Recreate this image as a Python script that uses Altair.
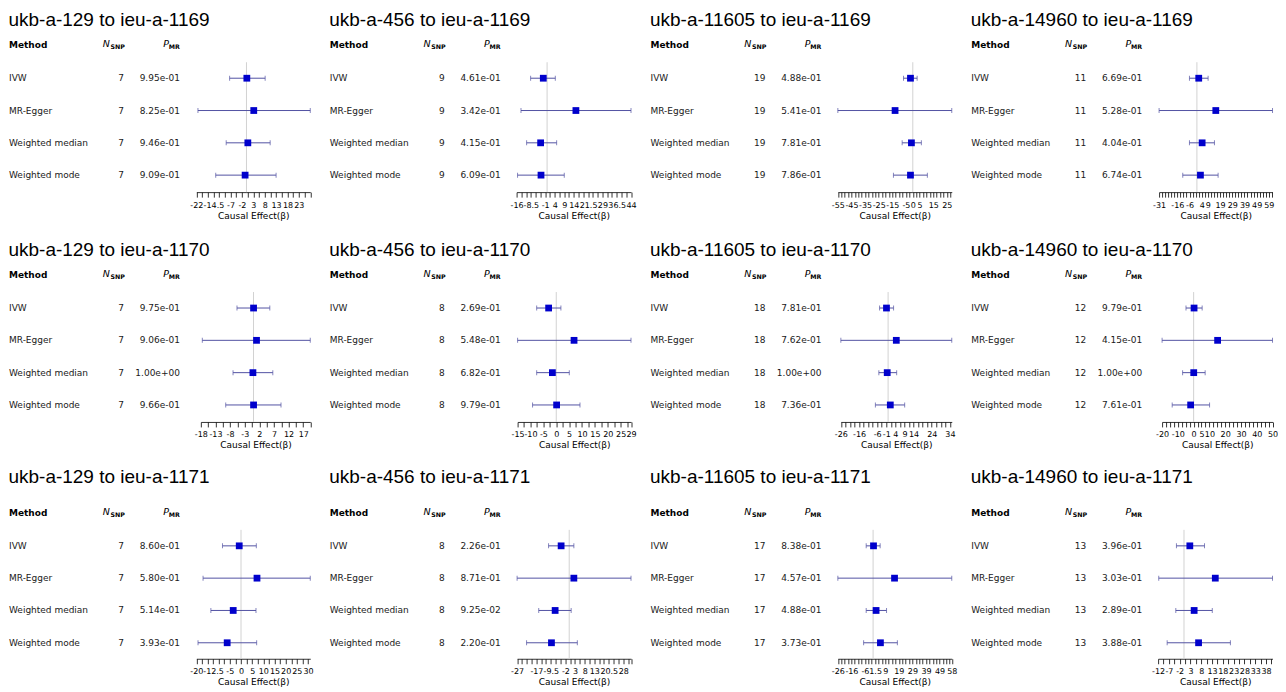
import json
import altair as alt
import numpy as np
import pandas as pd

exposures = ["ukb-a-129", "ukb-a-456", "ukb-a-11605", "ukb-a-14960"]
outcomes = ["ieu-a-1169", "ieu-a-1170", "ieu-a-1171"]
methods = ["IVW", "MR-Egger", "Weighted median", "Weighted mode"]

# panels in reading order: row = outcome, column = exposure
n_snp = [7, 9, 19, 11, 7, 8, 18, 12, 7, 8, 17, 13]

p_mr = [
    [9.95e-01, 8.25e-01, 9.46e-01, 9.09e-01],
    [4.61e-01, 3.42e-01, 4.15e-01, 6.09e-01],
    [4.88e-01, 5.41e-01, 7.81e-01, 7.86e-01],
    [6.69e-01, 5.28e-01, 4.04e-01, 6.74e-01],
    [9.75e-01, 9.06e-01, 1.00e+00, 9.66e-01],
    [2.69e-01, 5.48e-01, 6.82e-01, 9.79e-01],
    [7.81e-01, 7.62e-01, 1.00e+00, 7.36e-01],
    [9.79e-01, 4.15e-01, 1.00e+00, 7.61e-01],
    [8.60e-01, 5.80e-01, 5.14e-01, 3.93e-01],
    [2.26e-01, 8.71e-01, 9.25e-02, 2.20e-01],
    [8.38e-01, 4.57e-01, 4.88e-01, 3.73e-01],
    [3.96e-01, 3.03e-01, 2.89e-01, 3.88e-01],
]

beta = [
    [0.16, 3.2, 0.6, -0.6],
    [-2.0, 15.1, -3.4, -3.2],
    [-1.7, -13.0, -1.0, -1.7],
    [1.5, 15.5, 4.3, 2.9],
    [0.02, 1.03, -0.2, 0.02],
    [-2.96, 6.9, -1.5, 0.14],
    [-0.9, 4.5, -0.5, 1.2],
    [0.27, 15.2, 0.06, -1.9],
    [-0.8, 7.15, -3.5, -6.2],
    [-4.2, 2.4, -7.3, -9.2],
    [0.3, 15.8, 2.2, 5.4],
    [2.7, 14.5, 4.7, 6.75],
]

ci_low = [
    [-7.4, -21.3, -8.9, -13.5],
    [-8.65, -13.7, -10.75, -15.5],
    [-6.8, -55.0, -7.8, -14.2],
    [-6.1, -31.0, -6.1, -11.6],
    [-5.65, -17.5, -7.0, -9.5],
    [-7.6, -15.0, -7.6, -9.2],
    [-4.7, -26.0, -5.1, -7.0],
    [-4.85, -20.0, -7.0, -13.6],
    [-8.3, -17.0, -13.5, -19.25],
    [-10.7, -27.0, -15.8, -22.1],
    [-5.1, -26.0, -5.1, -7.0],
    [-3.5, -11.7, -3.8, -7.8],
]

ci_high = [
    [8.2, 28.0, 10.4, 13.0],
    [4.3, 44.0, 5.0, 9.0],
    [3.2, 28.6, 6.3, 10.7],
    [9.2, 62.0, 14.4, 17.4],
    [5.57, 19.4, 6.6, 9.4],
    [1.8, 29.0, 5.06, 9.2],
    [3.0, 35.0, 4.7, 9.1],
    [5.4, 50.0, 7.3, 10.1],
    [6.85, 31.0, 6.7, 7.0],
    [2.4, 32.0, 1.0, 4.2],
    [5.2, 58.0, 9.9, 17.9],
    [9.5, 41.0, 13.1, 21.5],
]

axis_min = [-22, -16, -55, -31, -18, -15, -26, -20, -20, -27, -26, -12]
axis_max = [28, 44, 28.6, 62, 19.4, 29, 35, 50, 31, 32, 58, 41]

tick_labels = [
    [-22, -14.5, -7, -2, 3, 8, 13, 18, 23],
    [-16, -8.5, -1, 4, 9, 14, 21.5, 29, 36.5, 44],
    [-55, -45, -35, -25, -15, -5, 0, 5, 15, 25],
    [-31, -16, -6, 4, 9, 19, 29, 39, 49, 59],
    [-18, -13, -8, -3, 2, 7, 12, 17],
    [-15, -10, -5, 0, 5, 10, 15, 20, 25, 29],
    [-26, -16, -6, -1, 4, 9, 14, 24, 34],
    [-20, -10, 0, 5, 10, 20, 30, 40, 50],
    [-20, -12.5, -5, 0, 5, 10, 15, 20, 25, 30],
    [-27, -17, -9.5, -2, 3, 8, 13, 20.5, 28],
    [-26, -16, -6, 1.5, 9, 19, 29, 39, 49, 58],
    [-12, -7, -2, 3, 8, 13, 18, 23, 28, 33, 38],
]

# ---- styling / layout constants ----
X_LEFT = [188.5, 188, 188.5, 189, 193, 189, 191.5, 192, 188.5, 188.5, 188.5, 188]
X_RIGHT = 302.5
SMALL = "DejaVu Sans"
TITLE_FONT = "Liberation Sans"
BAR_COLOR = "#5252a3"
PT_COLOR = "#0000cc"


def tick_values(lo, hi):
    grid = [float(round(v, 4)) for v in np.arange(lo, hi + 1e-9, 2.5)]
    if hi - grid[-1] > 1.25:
        grid.append(float(hi))
    return grid


def panel(i):
    r, c = divmod(i, 4)
    last = r == 2
    H = 191 if last else 184
    dy = 8 if last else 0
    W = 321 if c < 3 else 306
    title_y = 9 if last else 12

    df = pd.DataFrame({
        "method": methods,
        "nsnp": [str(n_snp[i])] * 4,
        "p": [f"{v:.2e}" for v in p_mr[i]],
        "b": beta[i],
        "lo": ci_low[i],
        "hi": ci_high[i],
    })
    one = pd.DataFrame({"t": [f"{exposures[c]} to {outcomes[r]}"]})

    ticks = tick_values(axis_min[i], axis_max[i])
    expr = "indexof(" + json.dumps(tick_labels[i]) + ", datum.value) >= 0 ? toString(datum.value) : ''"
    xaxis = alt.Axis(
        values=ticks, labelExpr=expr, title="Causal Effect(β)",
        domainColor="#000000", domainWidth=0.8, tickColor="#000000", tickWidth=0.8,
        tickSize=5, labelFont=SMALL, labelFontSize=8, labelColor="#000000",
        labelPadding=4, labelOverlap=False, labelFlush=False, labelAngle=0,
        titleFont=SMALL, titleFontSize=9, titleFontWeight="normal",
        titleColor="#000000", titlePadding=2, grid=False,
    )
    xs = alt.Scale(domain=[axis_min[i], axis_max[i]], range=[X_LEFT[i], X_RIGHT],
                   nice=False, zero=False)
    ys = alt.Scale(type="point", domain=methods, range=[70 + dy, 167 + dy], padding=0)
    Y = alt.Y("method:N", scale=ys, axis=None)

    def X(field):
        return alt.X(field, type="quantitative", scale=xs, axis=xaxis)

    zero = alt.Chart(one).mark_rule(color="#d2d2d2", strokeWidth=1).encode(
        x=alt.X(datum=0, type="quantitative", scale=xs, axis=xaxis),
        y=alt.value(54 + dy), y2=alt.value(H))
    bars = alt.Chart(df).mark_rule(color=BAR_COLOR, strokeWidth=1).encode(
        x=X("lo"), x2="hi:Q", y=Y)
    cap_lo = alt.Chart(df).mark_tick(color=BAR_COLOR, size=5, thickness=1, orient="vertical").encode(
        x=X("lo"), y=Y)
    cap_hi = alt.Chart(df).mark_tick(color=BAR_COLOR, size=5, thickness=1, orient="vertical").encode(
        x=X("hi"), y=Y)
    pts = alt.Chart(df).mark_square(size=46, color=PT_COLOR, opacity=1).encode(
        x=X("b"), y=Y)

    title = alt.Chart(one).mark_text(align="left", baseline="middle", font=TITLE_FONT,
                                     fontSize=19, color="#000000").encode(
        x=alt.value(0.5), y=alt.value(title_y), text="t:N")
    hdr_y = 37 + dy
    h_method = alt.Chart(one).mark_text(align="left", baseline="middle", font=SMALL,
                                        fontSize=9, fontWeight="bold", color="#000000",
                                        text="Method").encode(
        x=alt.value(1), y=alt.value(hdr_y))
    h_n = alt.Chart(one).mark_text(align="right", baseline="middle", font=SMALL,
                                   fontSize=9.5, fontStyle="italic", color="#000000",
                                   text="N").encode(
        x=alt.value(102), y=alt.value(hdr_y - 1))
    h_snp = alt.Chart(one).mark_text(align="right", baseline="middle", font=SMALL,
                                     fontSize=6.3, fontWeight="bold", color="#000000",
                                     text="SNP").encode(
        x=alt.value(117), y=alt.value(hdr_y + 2))
    h_p = alt.Chart(one).mark_text(align="right", baseline="middle", font=SMALL,
                                   fontSize=9.5, fontStyle="italic", color="#000000",
                                   text="P").encode(
        x=alt.value(161), y=alt.value(hdr_y - 1))
    h_mr = alt.Chart(one).mark_text(align="right", baseline="middle", font=SMALL,
                                    fontSize=6.3, fontWeight="bold", color="#000000",
                                    text="MR").encode(
        x=alt.value(172), y=alt.value(hdr_y + 2))

    t_method = alt.Chart(df).mark_text(align="left", baseline="middle", font=SMALL,
                                       fontSize=9, color="#1a1a1a").encode(
        x=alt.value(1), y=Y, text="method:N")
    t_n = alt.Chart(df).mark_text(align="right", baseline="middle", font=SMALL,
                                  fontSize=9, color="#1a1a1a").encode(
        x=alt.value(116), y=Y, text="nsnp:N")
    t_p = alt.Chart(df).mark_text(align="right", baseline="middle", font=SMALL,
                                  fontSize=9, color="#1a1a1a").encode(
        x=alt.value(172), y=Y, text="p:N")

    return alt.layer(zero, bars, cap_lo, cap_hi, pts, title, h_method, h_n, h_snp,
                     h_p, h_mr, t_method, t_n, t_p).properties(width=W, height=H)


panels = [panel(i) for i in range(12)]

chart = alt.concat(
    *panels, columns=4, spacing=alt.RowColnumber(row=46, column=0), bounds="flush"
).properties(padding=0).configure_view(strokeWidth=0)

chart.save("out.html", embed_options={"renderer": "svg", "actions": False})
